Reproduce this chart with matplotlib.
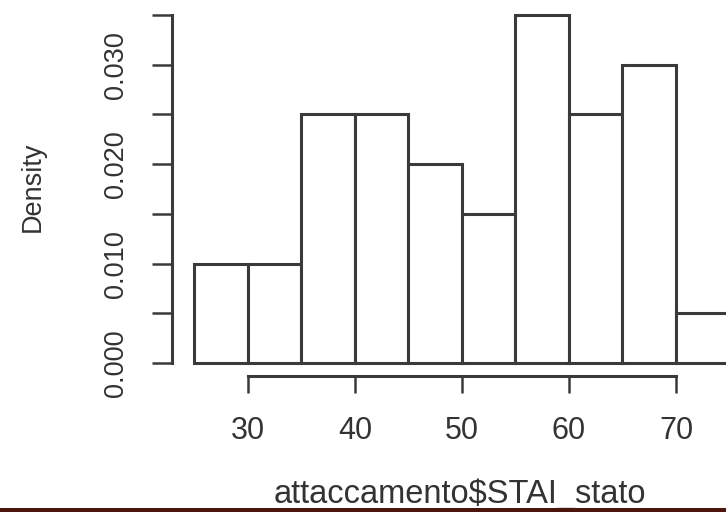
import matplotlib
matplotlib.use("Agg")
import matplotlib.pyplot as plt
from matplotlib.patches import Rectangle

# Data
bin_edges = [25, 30, 35, 40, 45, 50, 55, 60, 65, 70, 75]
densities = [0.010, 0.010, 0.025, 0.025, 0.020, 0.015, 0.035, 0.025, 0.030, 0.005]
x_ticks = [30, 40, 50, 60, 70]
y_ticks = [0.000, 0.005, 0.010, 0.015, 0.020, 0.025, 0.030, 0.035]
y_tick_labels = ["0.000", "", "0.010", "", "0.020", "", "0.030", ""]
x_label = "attaccamento$STAI_stato"
y_label = "Density"

plt.rcParams['font.family'] = ['Liberation Sans', 'DejaVu Sans']
W, H = 726, 512
fig = plt.figure(figsize=(W / 100, H / 100), dpi=100)

# axes: pixel x 172..726, pixel y 0..376 (from top)
left_px, right_px, top_px, bottom_px = 172, 726, 0, 376
ax = fig.add_axes([left_px / W, 1 - bottom_px / H,
                   (right_px - left_px) / W, (bottom_px - top_px) / H])

line_col = '#3a3a3a'
text_col = '#333333'

widths = [bin_edges[i + 1] - bin_edges[i] for i in range(len(densities))]
ax.bar(bin_edges[:-1], densities, width=widths, align='edge',
       color='white', edgecolor=line_col, linewidth=2.2)

# scales matched to reference pixel mapping
px_per_x = 10.7
px_per_y = 9943.0
ax.set_xlim(30 - (248 - left_px) / px_per_x, 30 + (right_px - 248) / px_per_x)
ax.set_ylim(-(bottom_px - 363) / px_per_y, (363 - top_px) / px_per_y)

for s in ['top', 'right']:
    ax.spines[s].set_visible(False)
ax.spines['left'].set_bounds(y_ticks[0], y_ticks[-1])
ax.spines['bottom'].set_bounds(x_ticks[0], x_ticks[-1])
for s in ['left', 'bottom']:
    ax.spines[s].set_linewidth(2.2)
    ax.spines[s].set_color(line_col)

ax.set_xticks(x_ticks)
ax.set_xticklabels([str(v) for v in x_ticks])
ax.set_yticks(y_ticks)
ax.set_yticklabels(y_tick_labels)

ax.tick_params(axis='x', length=12.5, width=1.8, color=line_col,
               labelsize=22, labelcolor=text_col, pad=16)
ax.tick_params(axis='y', length=14.4, width=1.8, color=line_col,
               labelsize=19.5, labelcolor=text_col, pad=16.5, labelrotation=90)
for lbl in ax.get_yticklabels():
    lbl.set_va('center')

fig.text(460 / W, 1 - 503 / H, x_label, ha='center', va='baseline',
         fontsize=23.5, color=text_col)
fig.text(33 / W, 1 - 187 / H, y_label, ha='center', va='center',
         rotation=90, fontsize=19.5, color=text_col)

fig.patches.append(Rectangle((0, 0), 1, 4.3 / H, transform=fig.transFigure,
                             facecolor='#4b140d', edgecolor='none', zorder=10))

fig.savefig('out.png', dpi=100)
